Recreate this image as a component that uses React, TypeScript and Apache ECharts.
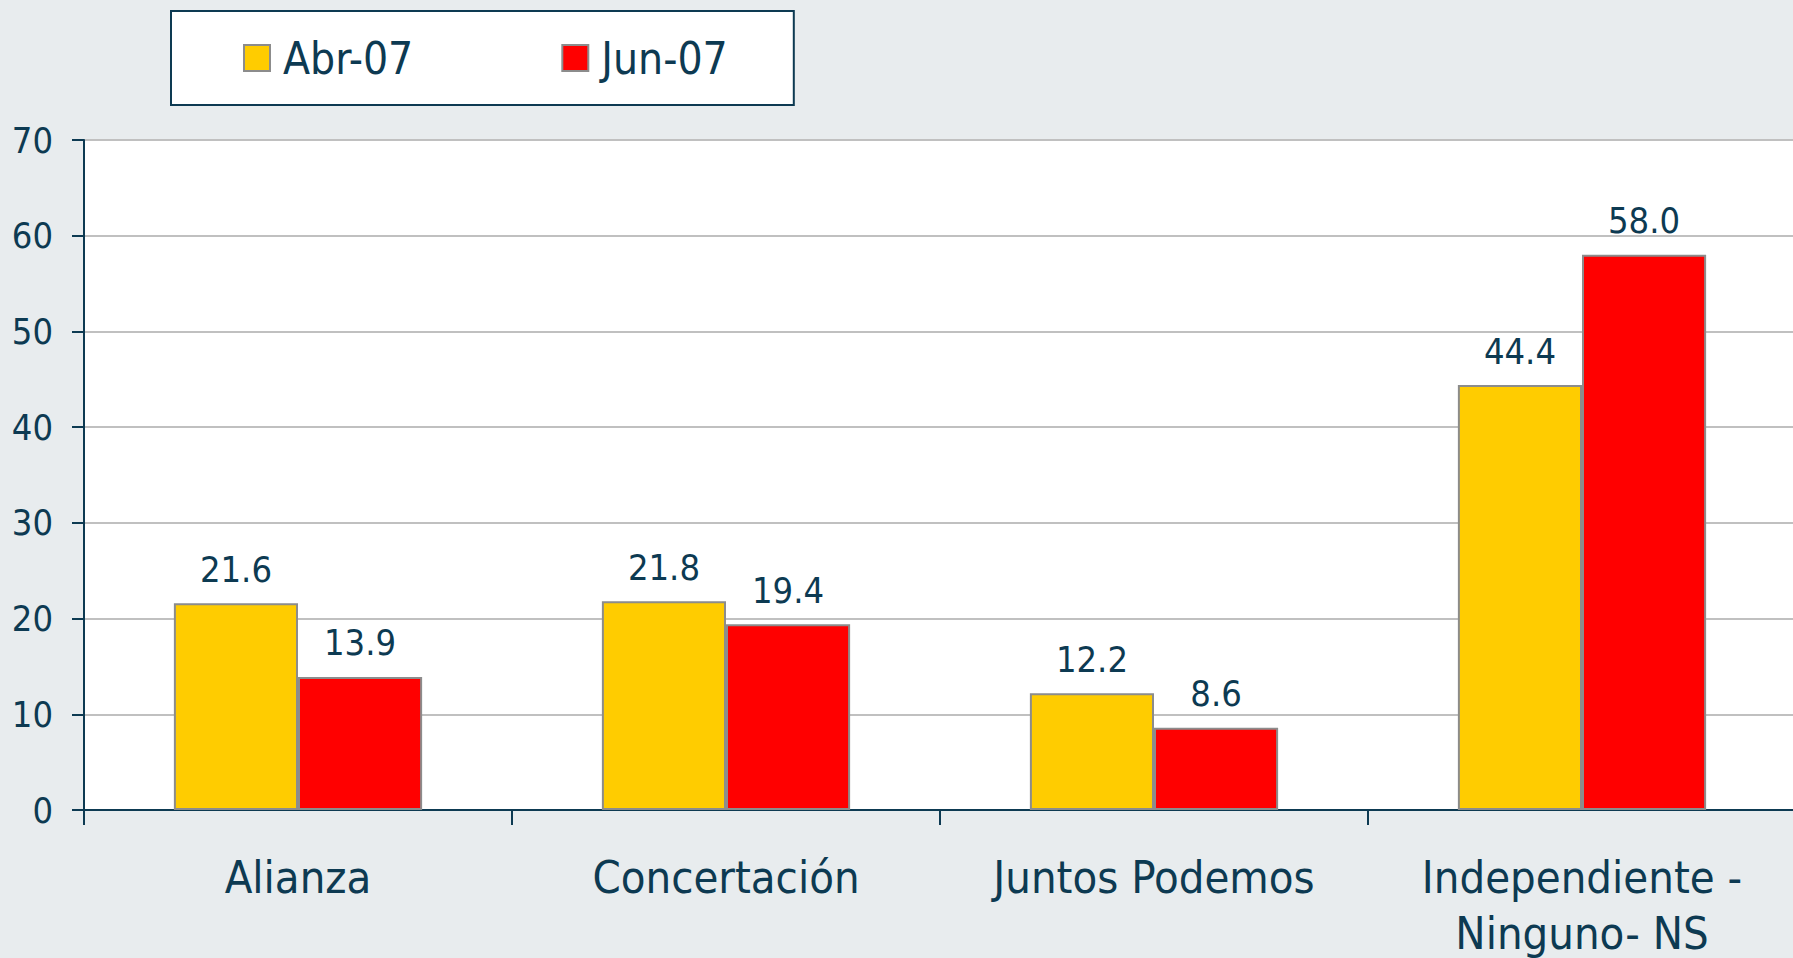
import React, { useEffect, useRef } from "react";
import * as echarts from "echarts";

const categories = ["Alianza", "Concertación", "Juntos Podemos", "Independiente -\nNinguno- NS"];
const seriesNames = ["Abr-07", "Jun-07"];
const abr07 = [21.6, 21.8, 12.2, 44.4];
const jun07 = [13.9, 19.4, 8.6, 58.0];
const yTicks = { min: 0, max: 70, interval: 10 };

const INK = "#0d3a52";
const FONT = "'DejaVu Sans Condensed', 'DejaVu Sans', sans-serif";

export default function App() {
  const ref = useRef<HTMLDivElement>(null);
  useEffect(() => {
    if (!ref.current) return;
    const chart = echarts.init(ref.current, undefined, { renderer: "svg" });
    const barLabel = {
      show: true,
      position: "top",
      distance: 16,
      color: INK,
      fontFamily: FONT,
      fontSize: 36,
      formatter: (p: any) => Number(p.value).toFixed(1),
    };
    chart.setOption({
      animation: false,
      backgroundColor: "#e8ecee",
      textStyle: { fontFamily: FONT },
      legend: {
        left: 171,
        top: 11,
        data: seriesNames,
        backgroundColor: "#ffffff",
        borderColor: INK,
        borderWidth: 2,
        borderRadius: 0,
        padding: [25, 66, 25, 72],
        itemWidth: 26,
        itemHeight: 26,
        itemGap: 148,
        icon: "rect",
        textStyle: { color: INK, fontSize: 44, fontFamily: FONT, lineHeight: 44, padding: [0, 0, 0, 8] },
      },
      grid: {
        left: 84,
        right: -3,
        top: 140,
        bottom: 148,
        outerBoundsMode: "none",
        containLabel: false,
        show: true,
        backgroundColor: "#ffffff",
        borderWidth: 0,
      },
      xAxis: {
        type: "category",
        data: categories,
        axisLine: { show: true, lineStyle: { color: INK, width: 2 } },
        axisTick: { show: true, length: 15, lineStyle: { color: INK, width: 2 } },
        axisLabel: {
          interval: 0,
          color: INK,
          fontFamily: FONT,
          fontSize: 45,
          lineHeight: 56,
          margin: 39,
        },
      },
      yAxis: {
        type: "value",
        min: yTicks.min,
        max: yTicks.max,
        interval: yTicks.interval,
        axisLine: { show: true, lineStyle: { color: INK, width: 2 } },
        axisTick: { show: true, length: 12, lineStyle: { color: INK, width: 2 } },
        axisLabel: { color: INK, fontFamily: FONT, fontSize: 36, margin: 31 },
        splitLine: { show: true, lineStyle: { color: "#c0c0c0", width: 2 } },
      },
      series: [
        {
          name: seriesNames[0],
          type: "bar",
          data: abr07,
          barGap: "0%",
          barCategoryGap: "42%",
          itemStyle: { color: "#ffcc00", borderColor: "#8c8c8c", borderWidth: 2 },
          label: barLabel,
        },
        {
          name: seriesNames[1],
          type: "bar",
          data: jun07,
          barGap: "0%",
          barCategoryGap: "42%",
          itemStyle: { color: "#ff0000", borderColor: "#8c8c8c", borderWidth: 2 },
          label: barLabel,
        },
      ],
    });
    return () => chart.dispose();
  }, []);
  return (
    <div
      ref={ref}
      style={{ position: "fixed", left: 0, top: 0, width: 1793, height: 958 }}
    />
  );
}
